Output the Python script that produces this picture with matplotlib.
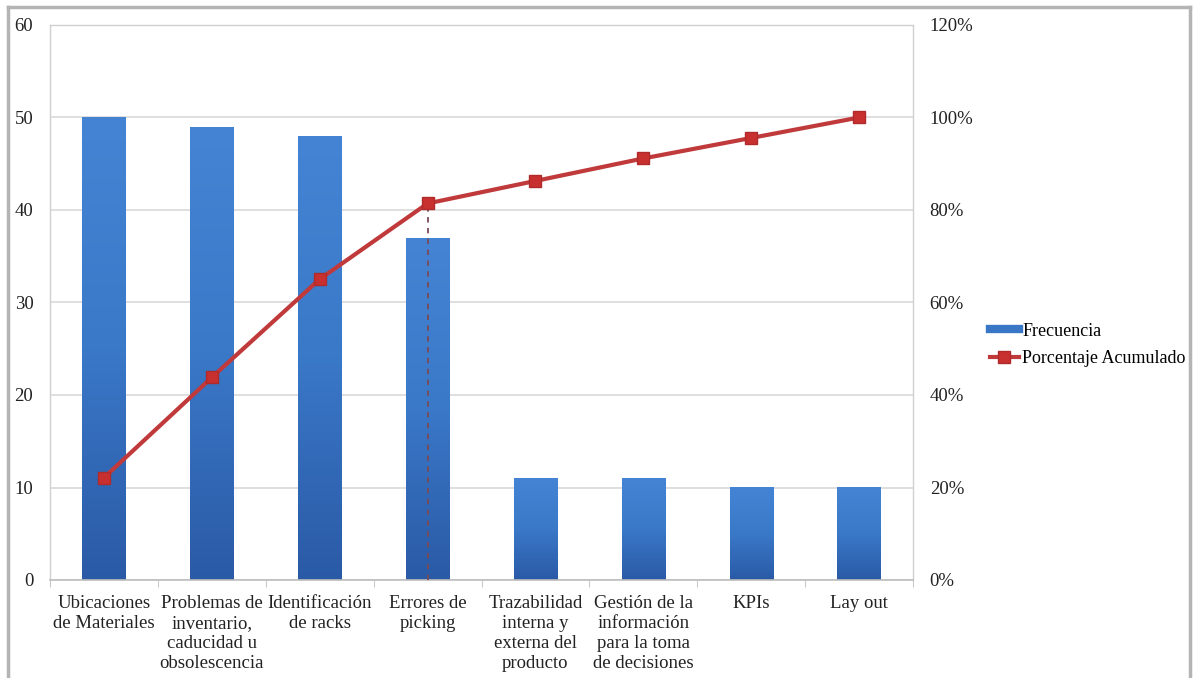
import numpy as np
import matplotlib
matplotlib.use("Agg")
import matplotlib.pyplot as plt
from matplotlib.lines import Line2D
from matplotlib.ticker import FuncFormatter, MultipleLocator

plt.rcParams['font.family'] = ['Liberation Serif', 'DejaVu Serif']

categories = [
    "Ubicaciones\nde Materiales",
    "Problemas de\ninventario,\ncaducidad u\nobsolescencia",
    "Identificación\nde racks",
    "Errores de\npicking",
    "Trazabilidad\ninterna y\nexterna del\nproducto",
    "Gestión de la\ninformación\npara la toma\nde decisiones",
    "KPIs",
    "Lay out",
]
frecuencia = [50, 49, 48, 37, 11, 11, 10, 10]
cut_index = 3  # last category inside the 80% cut

total = sum(frecuencia)
acumulado = np.cumsum(frecuencia) / total * 100.0

W, H = 1198, 678
fig = plt.figure(figsize=(W / 100, H / 100), dpi=100)
fig.patch.set_facecolor("white")

# outer chart frame
frame_col = "#b4b4b4"
fig.add_artist(Line2D([8 / W, 8 / W], [0, 1 - 7 / H], color=frame_col, lw=2.5))
fig.add_artist(Line2D([8 / W, 1190 / W], [1 - 7 / H, 1 - 7 / H], color=frame_col, lw=2.5))
fig.add_artist(Line2D([1190 / W, 1190 / W], [0, 1 - 7 / H], color=frame_col, lw=2.5))

ax = fig.add_axes([50 / W, 1 - 580 / H, (913 - 50) / W, (580 - 25) / H])
x = np.arange(len(categories))

bar_col = "#3a76c6"
bars = ax.bar(x, frecuencia, width=0.4, color=bar_col, zorder=2)

# vertical shading on each bar
grad = np.linspace(0, 1, 256).reshape(-1, 1)
cmap = matplotlib.colors.LinearSegmentedColormap.from_list(
    "barshade", ["#2a5aa6", "#3a78c8", "#4584d4"])
for b in bars:
    x0, y0 = b.get_x(), b.get_y()
    im = ax.imshow(grad, extent=[x0, x0 + b.get_width(), y0, y0 + b.get_height()],
                   origin="lower", aspect="auto", cmap=cmap, zorder=2.1)
    im.set_clip_path(b)

ax.set_xlim(-0.5, len(categories) - 0.5)
ax.set_ylim(0, 60)
ax.yaxis.set_major_locator(MultipleLocator(10))
ax.grid(axis="y", color="#d9d9d9", lw=1.2, zorder=0)
ax.set_axisbelow(True)

for s in ["left", "right", "top"]:
    ax.spines[s].set_color("#d0d0d0")
    ax.spines[s].set_linewidth(1.0)
ax.spines["bottom"].set_color("#bdbdbd")
ax.spines["bottom"].set_linewidth(1.2)

fs = 13.5
ax.set_xticks(x)
ax.set_xticklabels(categories, fontsize=fs, linespacing=1.22, color="#222222")
ax.set_xticks(np.arange(len(categories) + 1) - 0.5, minor=True)
ax.tick_params(axis="x", which="major", length=0, pad=11)
ax.tick_params(axis="x", which="minor", length=5, color="#bdbdbd")
ax.tick_params(axis="y", length=0, labelsize=fs, labelcolor="#222222", pad=12)

ax2 = ax.twinx()
ax2.set_ylim(0, 120)
ax2.yaxis.set_major_locator(MultipleLocator(20))
ax2.yaxis.set_major_formatter(FuncFormatter(lambda v, p: f"{v:.0f}%"))
ax2.tick_params(axis="y", length=0, labelsize=fs, labelcolor="#222222", pad=12)
for s in ax2.spines.values():
    s.set_visible(False)

line_col = "#c0393b"
ax2.plot(x, acumulado, color=line_col, lw=3, marker="s", markersize=9,
         markerfacecolor="#c8302f", markeredgecolor="#b02a2a", zorder=5)

# 80% cut marker under the cumulative curve
ax2.plot([x[cut_index], x[cut_index]], [0, acumulado[cut_index]],
         ls=(0, (3, 3)), color="#7a4a55", lw=1.3, zorder=4)

handles = [
    Line2D([0], [0], color="#3a76c6", lw=6),
    Line2D([0], [0], color=line_col, lw=3, marker="s", markersize=8,
           markerfacecolor="#c8302f", markeredgecolor="#b02a2a"),
]
fig.legend(handles, ["Frecuencia", "Porcentaje Acumulado"],
           loc="center left", bbox_to_anchor=(990 / W, 1 - 345 / H),
           frameon=False, fontsize=13, handlelength=1.6, handletextpad=0.2,
           labelspacing=0.6, borderaxespad=0, borderpad=0)

fig.savefig("out.png", dpi=100, facecolor="white")
